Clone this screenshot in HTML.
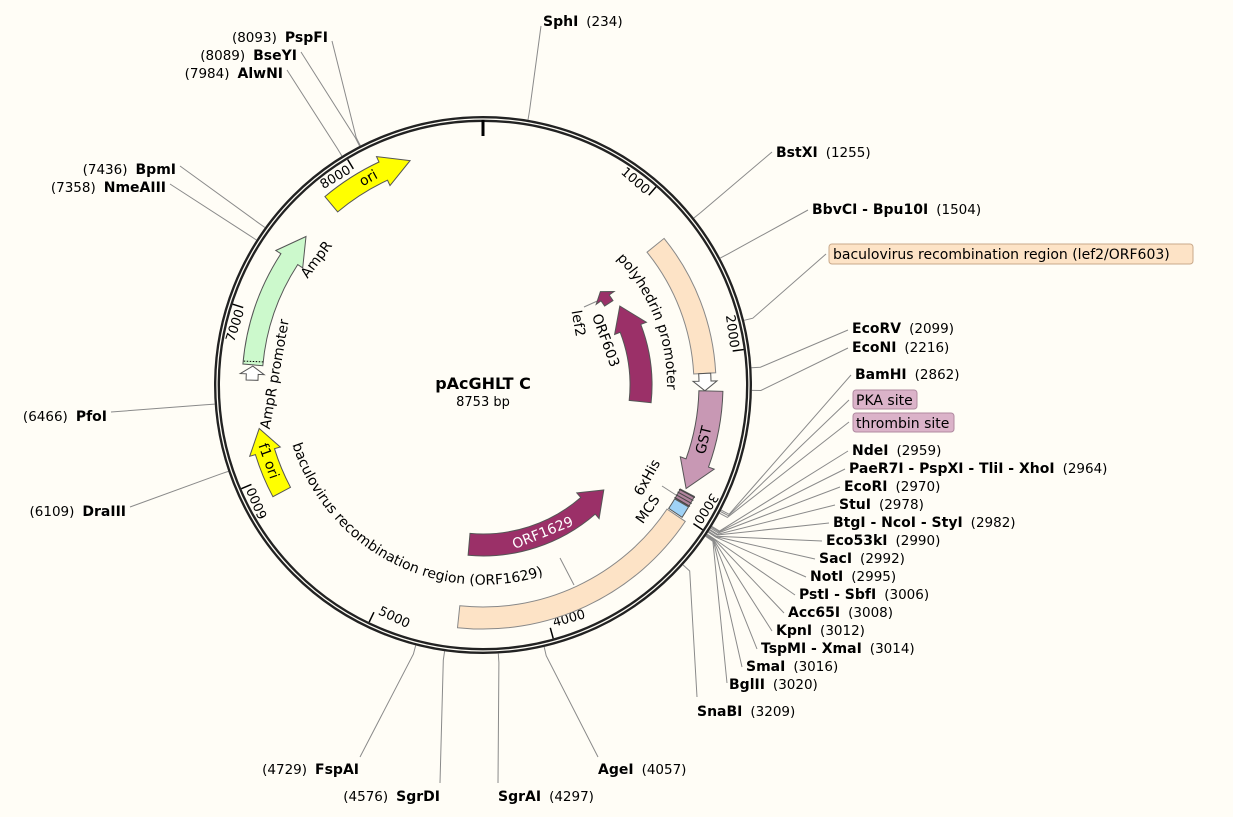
<!DOCTYPE html>
<html><head><meta charset="utf-8"><style>
html,body{margin:0;padding:0;background:#fffdf6;}
svg{display:block;font-family:"DejaVu Sans","Liberation Sans",sans-serif;}
.n{font-weight:bold;font-size:14px;fill:#000}
.p{font-size:13.5px;fill:#000}
.f{font-size:14px;fill:#000}
</style></head><body>
<svg id="s" width="1233" height="817" viewBox="0 0 1233 817" xmlns="http://www.w3.org/2000/svg">
<rect width="1233" height="817" fill="#fffdf6"/>
<g id="lines" stroke="#8a8a8a" stroke-width="1" fill="none"></g>
<circle cx="483" cy="385" r="266" fill="none" stroke="#222" stroke-width="6"/>
<circle cx="483" cy="385" r="266" fill="none" stroke="#fffdf6" stroke-width="1.3"/>
<line x1="483" y1="120" x2="483" y2="136" stroke="#000" stroke-width="3"/>
<g id="ticks"></g>
<g id="feats" stroke="#555" stroke-width="1"></g>
<g id="labs"></g>
<text x="483" y="389" text-anchor="middle" font-weight="bold" font-size="16">pAcGHLT C</text>
<text x="483" y="406" text-anchor="middle" font-size="13">8753 bp</text>
<defs>
<path id="bacpath" d=""/>
<path id="polypath" d=""/>
</defs>
<text class="f"><textPath href="#bacpath" startOffset="50%" text-anchor="middle">baculovirus recombination region (ORF1629)</textPath></text>
<text class="f"><textPath href="#polypath" startOffset="50%" text-anchor="middle">polyhedrin promoter</textPath></text>
<rect x="829" y="244" width="364" height="20" rx="3" fill="#fde3c6" stroke="#c9a98a"/>
<text x="833" y="259" class="f">baculovirus recombination region (lef2/ORF603)</text>
<rect x="853" y="390" width="64" height="19" rx="3" fill="#dbb3c9" stroke="#b08aa0"/>
<text x="856" y="405" class="f">PKA site</text>
<rect x="853" y="413" width="101" height="19" rx="3" fill="#dbb3c9" stroke="#b08aa0"/>
<text x="856" y="428" class="f">thrombin site</text>
</svg>
<script>
var cx=483,cy=385,NS="http://www.w3.org/2000/svg";
function P(a,r){var t=a*Math.PI/180;return [cx+r*Math.sin(t),cy-r*Math.cos(t)];}
function f(p){return p[0].toFixed(1)+","+p[1].toFixed(1);}
function el(tag,attrs,parent,txt){var e=document.createElementNS(NS,tag);for(var k in attrs)e.setAttribute(k,attrs[k]);if(txt!=null)e.textContent=txt;parent.appendChild(e);return e;}
function arcTo(a1,a2,r){var lg=Math.abs(a2-a1)>180?1:0,sw=a2>a1?1:0;return " A"+r+","+r+" 0 "+lg+" "+sw+" "+f(P(a2,r));}
function feat(a1,a2,r,w,head,dir,fill,extra){
 var ro=r+w/2,ri=r-w/2,hw=w/2+6,d;
 if(!head){d="M"+f(P(a1,ro))+arcTo(a1,a2,ro)+" L"+f(P(a2,ri))+arcTo(a2,a1,ri)+"Z";}
 else if(dir>0){var b=a2-head;d="M"+f(P(a1,ro))+arcTo(a1,b,ro)+" L"+f(P(b,r+hw))+" L"+f(P(a2,r))+" L"+f(P(b,r-hw))+" L"+f(P(b,ri))+arcTo(b,a1,ri)+"Z";}
 else {var b=a1+head;d="M"+f(P(a2,ro))+arcTo(a2,b,ro)+" L"+f(P(b,r+hw))+" L"+f(P(a1,r))+" L"+f(P(b,r-hw))+" L"+f(P(b,ri))+arcTo(b,a2,ri)+"Z";}
 var e=el("path",{d:d,fill:fill},document.getElementById("feats"));
 if(extra)for(var k in extra)e.setAttribute(k,extra[k]);
}
feat(-40,-18,236,20,7,1,"#ffff00");
feat(-85,-50,231,20,7,1,"#ccf9cc");
feat(-88.8,-85.3,231,12,2,1,"#ffffff",{});
feat(-118,-101,228,20,6,1,"#ffff00");
feat(51,87,222,22,0,0,"#fde3c6",{stroke:"#888"});
feat(87,91.5,222,12,2.5,1,"#ffffff");
feat(91.5,117,228,24,7,1,"#c898b4");
feat(117.8,120.5,231,16,0,0,"#b0849d");
feat(120.7,123.6,231,16,0,0,"#9fd2f6");
feat(124,186,233,22,0,0,"#fde3c6",{stroke:"#888"});
feat(131,185,160,22,8,-1,"#9b3068");
feat(60,96,158,22,9,-1,"#9b3068");
feat(51.5,57,150,10,3,-1,"#9b3068");
(function(){var a=P(-84,221),b=P(-84.3,241);el("line",{x1:a[0],y1:a[1],x2:b[0],y2:b[1],stroke:"#000","stroke-dasharray":"1.5,1.5"},document.getElementById("feats"));})();
for(var i=0;i<4;i++){var a=P(118+i*0.8,222),b=P(118+i*0.8,240);el("line",{x1:a[0],y1:a[1],x2:b[0],y2:b[1],stroke:"#444"},document.getElementById("feats"));}
var T=document.getElementById("ticks");
for(var k=1;k<=8;k++){var a=k*1000/8753*360;var p1=P(a,263),p2=P(a,252);
 el("line",{x1:p1[0],y1:p1[1],x2:p2[0],y2:p2[1],stroke:"#000","stroke-width":1.5},T);
 var g=el("g",{},T);
 if(a>135&&a<225){g.setAttribute("transform","translate("+cx+","+cy+") rotate("+(a-180)+")");el("text",{x:4,y:252,"font-size":13},g,k*1000);}
 else{g.setAttribute("transform","translate("+cx+","+cy+") rotate("+a+")");el("text",{x:-3,y:-250,"text-anchor":"end","font-size":13},g,k*1000);}
}
function arcPath(a1,a2,r){return "M"+f(P(a1,r))+arcTo(a1,a2,r);}
document.getElementById("bacpath").setAttribute("d",arcPath(290,125,200));
document.getElementById("polypath").setAttribute("d",arcPath(22,116,184));
var L=document.getElementById("labs");
function rt(txt,a,r,rot,opts){var p=P(a,r);var g=el("g",{transform:"translate("+p[0]+","+p[1]+") rotate("+rot+")"},L);var o={x:0,y:0,"text-anchor":"middle","dominant-baseline":"central","font-size":14};for(var k in opts)o[k]=opts[k];el("text",o,g,txt);}
rt("ori",-29,236,-29);
rt("AmpR",-53,208,-53);
rt("AmpR promoter",-87,208,-80);
rt("f1 ori",-109.5,228,70.5);
rt("GST",104,228,-76);
rt("ORF1629",158,160,-22,{fill:"#fff"});
rt("ORF603",70,130,70);
rt("lef2",57,113,80);
rt("6xHis",119.4,189,-61);
rt("MCS",127,207,-55);
var LN=document.getElementById("lines");
function pl(pts){el("polyline",{points:pts.map(f).join(" ")},LN);}
pl([[584,307],[604,298]]);
pl([[662,486],[679,497]]);
pl([[560,558],[574,585]]);
var S=[
 [234,[541,26],"SphI","(234)",543,26,"r"],
 [1255,[772,152],"BstXI","(1255)",776,157,"r"],
 [1504,[808,210],"BbvCI - Bpu10I","(1504)",812,214,"r"],
 [1850,[826,254],null],
 [2099,[848,330],"EcoRV","(2099)",852,333,"r"],
 [2216,[848,348],"EcoNI","(2216)",852,352,"r"],
 [2862,[851,375],"BamHI","(2862)",855,379,"r"],
 [2870,[849,400],null],
 [2880,[849,422],null],
 [2959,[848,451],"NdeI","(2959)",852,455,"r"],
 [2964,[845,469],"PaeR7I - PspXI - TliI - XhoI","(2964)",849,473,"r"],
 [2970,[840,487],"EcoRI","(2970)",844,491,"r"],
 [2978,[835,505],"StuI","(2978)",839,509,"r"],
 [2982,[829,523],"BtgI - NcoI - StyI","(2982)",833,527,"r"],
 [2990,[822,541],"Eco53kI","(2990)",826,545,"r"],
 [2992,[815,559],"SacI","(2992)",819,563,"r"],
 [2995,[806,577],"NotI","(2995)",810,581,"r"],
 [3006,[795,595],"PstI - SbfI","(3006)",799,599,"r"],
 [3008,[784,613],"Acc65I","(3008)",788,617,"r"],
 [3012,[772,631],"KpnI","(3012)",776,635,"r"],
 [3014,[757,649],"TspMI - XmaI","(3014)",761,653,"r"],
 [3016,[742,667],"SmaI","(3016)",746,671,"r"],
 [3020,[727,683],"BglII","(3020)",729,689,"r"],
 [3209,[697,697],"SnaBI","(3209)",697,716,"r",[697,582]],
 [4057,[598,757],"AgeI","(4057)",598,774,"r"],
 [4297,[498,783],"SgrAI","(4297)",498,801,"r"],
 [4576,[440,783],"SgrDI","(4576)",440,801,"l"],
 [4729,[360,757],"FspAI","(4729)",359,774,"l"],
 [6109,[130,507],"DraIII","(6109)",126,516,"l"],
 [6466,[111,412],"PfoI","(6466)",107,421,"l"],
 [7358,[170,184],"NmeAIII","(7358)",166,192,"l"],
 [7436,[180,166],"BpmI","(7436)",176,174,"l"],
 [7984,[287,70],"AlwNI","(7984)",283,78,"l"],
 [8089,[301,52],"BseYI","(8089)",297,60,"l"],
 [8093,[332,41],"PspFI","(8093)",328,42,"l"]
];
S.forEach(function(s){
 var a=s[0]/8753*360, r0=P(a,269), r1=P(a,278);
 var pts=[r0,r1];
 if(s[8])pts.push(s[8]);
 pts.push(s[1]);
 pl(pts);
 if(!s[2])return;
 var t=el("text",{x:s[4],y:s[5]},L);
 if(s[6]=="r"){el("tspan",{"class":"n"},t,s[2]);el("tspan",{"class":"p",dx:8},t,s[3]);}
 else{t.setAttribute("text-anchor","end");el("tspan",{"class":"p"},t,s[3]);el("tspan",{"class":"n",dx:8},t,s[2]);}
});
</script>
</body></html>
